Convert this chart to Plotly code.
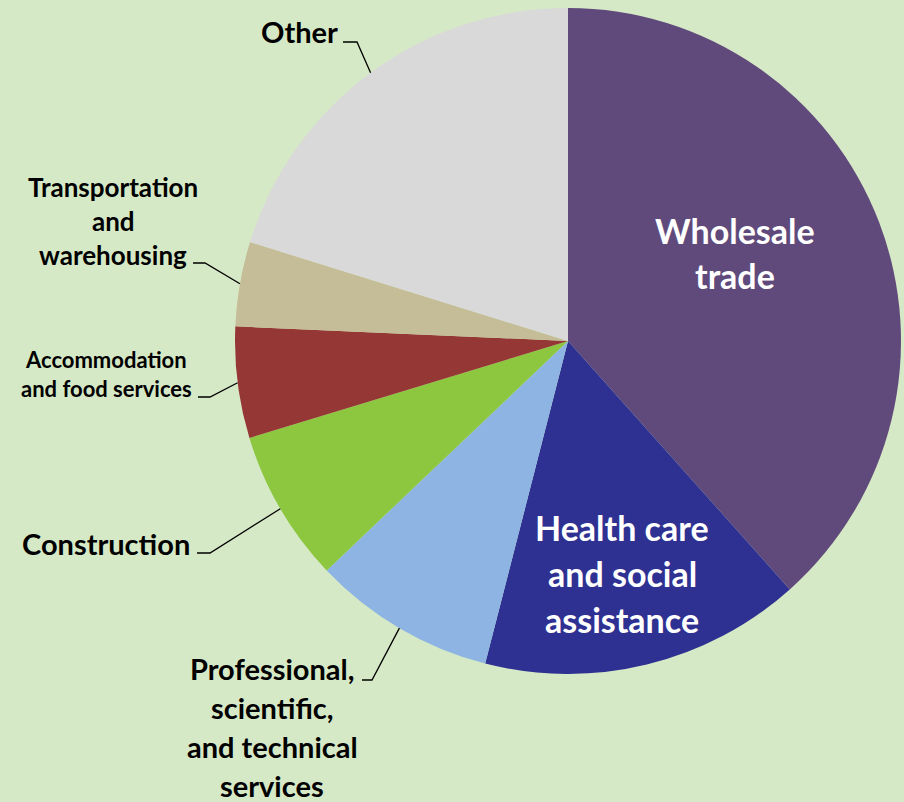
import math
import plotly.graph_objects as go

W, H = 904, 802

# slices, clockwise from 12 o'clock
sectors = ["Wholesale trade", "Health care and social assistance",
           "Professional, scientific, and technical services", "Construction",
           "Accommodation and food services", "Transportation and warehousing", "Other"]
shares = [38.4, 15.6, 8.9, 7.4, 5.4, 4.1, 20.2]
colors = ["#604A7B", "#2E3192", "#8DB4E2", "#8DC63F", "#953735", "#C4BD97", "#D9D9D9"]

# label text lines per sector
label_lines = [
    ["Wholesale", "trade"],
    ["Health care", "and social", "assistance"],
    ["Professional,", "scientific,", "and technical", "services"],
    ["Construction"],
    ["Accommodation", "and food services"],
    ["Transportation", "and", "warehousing"],
    ["Other"],
]

# pie geometry in pixels
cx, cy, r = 568, 341, 333
FONT = "Lato"

def px(x, y):
    return x / W, 1 - y / H

fig = go.Figure(go.Pie(
    labels=sectors, values=shares, sort=False, direction="clockwise", rotation=0,
    marker=dict(colors=colors, line=dict(width=0)),
    textinfo="none", showlegend=False,
    domain=dict(x=[(cx - r) / W, (cx + r) / W], y=[1 - (cy + r) / H, 1 - (cy - r) / H]),
))

# text layout: (x, first line y, line spacing, font size, color, xanchor)
label_style = [
    (735, 230, 45, 34, "white", "center"),
    (622, 527, 46, 34, "white", "center"),
    (272, 668, 39, 29, "black", "center"),
    (192, 543, 0, 29, "black", "right"),
    (106, 359, 29, 22, "black", "center"),
    (113, 187, 34, 26, "black", "center"),
    (340, 32, 0, 29, "black", "right"),
]

annotations = []
for lines, (x, y0, dy, size, col, anchor) in zip(label_lines, label_style):
    for i, t in enumerate(lines):
        ax, ay = px(x, y0 + i * dy)
        annotations.append(dict(
            x=ax, y=ay, xref="paper", yref="paper", text="<b>%s</b>" % t,
            showarrow=False, xanchor=anchor, yanchor="middle",
            font=dict(family=FONT, size=size, color=col)))

# leader lines: horizontal stub next to label, then to slice mid-angle on rim
elbows = {2: (362, 372, 680), 3: (197, 210, 553), 4: (198, 210, 397),
          5: (193, 205, 263), 6: (343, 357, 42)}
total = sum(shares)
cum = 0
shapes = []
for i, v in enumerate(shares):
    mid = math.radians(360 * (cum + v / 2) / total)
    cum += v
    if i not in elbows:
        continue
    ex, ey = cx + r * math.sin(mid), cy - r * math.cos(mid)
    x1, x2, yy = elbows[i]
    p1, p2, p3 = px(x1, yy), px(x2, yy), px(ex, ey)
    shapes.append(dict(
        type="path", xref="paper", yref="paper",
        path="M %f %f L %f %f L %f %f" % (p1[0], p1[1], p2[0], p2[1], p3[0], p3[1]),
        line=dict(color="black", width=1.3)))

fig.update_layout(
    width=W, height=H, margin=dict(l=0, r=0, t=0, b=0),
    paper_bgcolor="#D6E9C6", plot_bgcolor="#D6E9C6",
    annotations=annotations, shapes=shapes,
)

fig.write_html("out.html", config={"displayModeBar": False},
               post_script="document.body.style.margin='0';")
